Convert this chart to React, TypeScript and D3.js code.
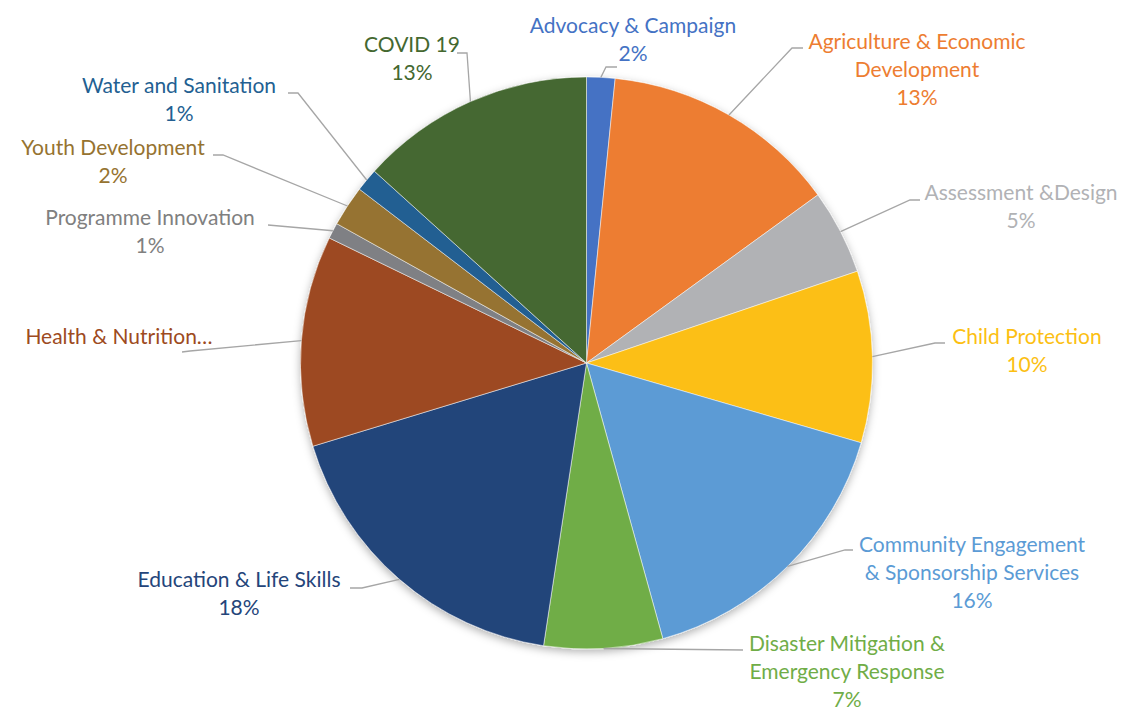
import React, { useEffect, useRef } from "react";
import * as d3 from "d3";

// slice data, clockwise from 12 o'clock (share of total, %)
const categories = [
  "Advocacy & Campaign",
  "Agriculture & Economic Development",
  "Assessment &Design",
  "Child Protection",
  "Community Engagement & Sponsorship Services",
  "Disaster Mitigation & Emergency Response",
  "Education & Life Skills",
  "Health & Nutrition",
  "Programme Innovation",
  "Youth Development",
  "Water and Sanitation",
  "COVID 19",
];
const values = [1.6, 13.4, 4.8, 9.7, 16.2, 6.7, 17.9, 11.9, 0.9, 2.3, 1.3, 13.3];

// label text as it is wrapped on the chart (no percentage for Health)
const labelLines = [
  ["Advocacy & Campaign"],
  ["Agriculture & Economic", "Development"],
  ["Assessment &Design"],
  ["Child Protection"],
  ["Community Engagement", "& Sponsorship Services"],
  ["Disaster Mitigation &", "Emergency Response"],
  ["Education & Life Skills"],
  ["Health & Nutrition…"],
  ["Programme Innovation"],
  ["Youth Development"],
  ["Water and Sanitation"],
  ["COVID 19"],
];
const showPercent = [true, true, true, true, true, true, true, false, true, true, true, true];

const colors = [
  "#4472C4", "#ED7D31", "#B1B2B5", "#FCBF13", "#5B9BD5", "#70AD47",
  "#24457A", "#9D4A21", "#7F8084", "#967330", "#235F92", "#446830",
];
const labelColors = [
  "#4472C4", "#ED7D31", "#B1B2B5", "#FCBF13", "#5B9BD5", "#70AD47",
  "#24457A", "#9D4A21", "#808080", "#967330", "#235F92", "#446830",
];

const WIDTH = 1122;
const HEIGHT = 712;
const CX = 586.5;
const CY = 363;
const R = 286;
const LINE_H = 28;

// label placement: text centre of first line, leader elbow, leader end
const labelLayout = [
  { x: 633, y: 26, elbow: [606, 67], end: [617, 67] },
  { x: 917, y: 42, elbow: [792, 48], end: [803, 48] },
  { x: 1021, y: 193, elbow: [910, 200], end: [920, 200] },
  { x: 1027, y: 337, elbow: [935, 343], end: [945, 343] },
  { x: 972, y: 545, elbow: [845, 550], end: [853, 550] },
  { x: 847, y: 644, elbow: [743, 650], end: [743, 650] },
  { x: 239, y: 580, elbow: [362, 588], end: [350, 588] },
  { x: 119, y: 337, elbow: [190, 351], end: [182, 352] },
  { x: 150, y: 218, elbow: [268, 225], end: [268, 225] },
  { x: 113, y: 148, elbow: [223, 155], end: [213, 155] },
  { x: 179, y: 86, elbow: [298, 93], end: [288, 93] },
  { x: 412, y: 45, elbow: [467, 53], end: [457, 53] },
];

const App = () => {
  const svgRef = useRef(null);

  useEffect(() => {
    document.body.style.margin = "0";
    const svg = d3.select(svgRef.current);
    svg.selectAll("*").remove();

    const data = categories.map((c, i) => ({ name: c, value: values[i], i }));
    const total = d3.sum(values);
    const fmt = d3.format(".0%");

    const pie = d3.pie().sort(null).value((d) => d.value);
    const arcs = pie(data);
    const arc = d3.arc().innerRadius(0).outerRadius(R);

    // soft shadow like the office default
    const defs = svg.append("defs");
    const f = defs.append("filter").attr("id", "shadow")
      .attr("x", "-10%").attr("y", "-10%").attr("width", "120%").attr("height", "120%");
    f.append("feDropShadow").attr("dx", 0).attr("dy", 3).attr("stdDeviation", 4)
      .attr("flood-color", "#000").attr("flood-opacity", 0.3);

    const g = svg.append("g").attr("transform", `translate(${CX},${CY})`);
    g.append("g").attr("filter", "url(#shadow)")
      .selectAll("path")
      .data(arcs)
      .enter()
      .append("path")
      .attr("d", arc)
      .attr("fill", (d) => colors[d.data.i])
      .attr("stroke", "#fff")
      .attr("stroke-width", 0.5);

    // leader lines from arc mid point
    svg.append("g")
      .selectAll("polyline")
      .data(arcs)
      .enter()
      .append("polyline")
      .attr("points", (d) => {
        const a = (d.startAngle + d.endAngle) / 2;
        const p = [CX + R * Math.sin(a), CY - R * Math.cos(a)];
        const L = labelLayout[d.data.i];
        return [p, L.elbow, L.end].map((q) => q.join(",")).join(" ");
      })
      .attr("fill", "none")
      .attr("stroke", "#A6A6A6")
      .attr("stroke-width", 1.3);

    // labels
    const lbl = svg.append("g")
      .selectAll("text")
      .data(arcs)
      .enter()
      .append("text")
      .attr("text-anchor", "middle")
      .attr("fill", (d) => labelColors[d.data.i])
      .style("font-family", "Lato, 'Open Sans', sans-serif")
      .style("font-size", "21px");

    lbl.each(function (d) {
      const i = d.data.i;
      const L = labelLayout[i];
      const lines = labelLines[i].slice();
      if (showPercent[i]) lines.push(fmt(d.data.value / total));
      d3.select(this)
        .selectAll("tspan")
        .data(lines)
        .enter()
        .append("tspan")
        .attr("x", L.x)
        .attr("y", (_, k) => L.y + 7 + k * LINE_H)
        .text((t) => t);
    });
  }, []);

  return (
    <div style={{ width: WIDTH, height: HEIGHT, background: "#fff" }}>
      <svg ref={svgRef} width={WIDTH} height={HEIGHT} style={{ display: "block" }}></svg>
    </div>
  );
};

export default App;
